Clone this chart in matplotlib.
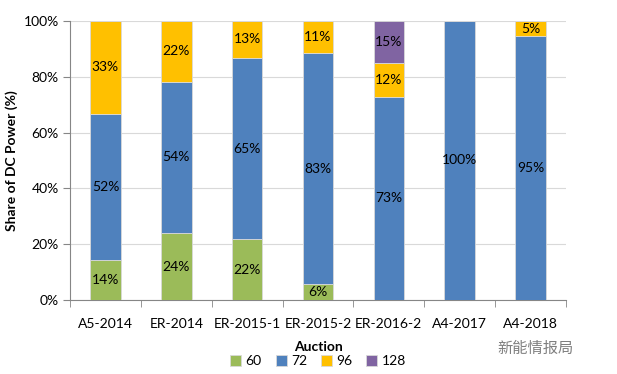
import matplotlib
matplotlib.use("Agg")
import matplotlib.pyplot as plt
import numpy as np

categories = ["A5-2014", "ER-2014", "ER-2015-1", "ER-2015-2", "ER-2016-2", "A4-2017", "A4-2018"]
series_names = ["60", "72", "96", "128"]
s60 = [14.3, 24.0, 21.7, 5.6, 0.0, 0.0, 0.0]
s72 = [52.4, 54.2, 65.2, 83.0, 72.8, 100.0, 94.6]
s96 = [33.3, 21.8, 13.1, 11.4, 12.2, 0.0, 5.4]
s128 = [0.0, 0.0, 0.0, 0.0, 15.0, 0.0, 0.0]
colors = ["#9BBB59", "#4F81BD", "#FFC000", "#8064A2"]

plt.rcParams['font.family'] = ['Lato', 'DejaVu Sans']

fig = plt.figure(figsize=(6.17, 3.74), dpi=100)
ax = fig.add_axes([70/617, 1-300/374, (566-70)/617, (300-21)/374])

x = np.arange(len(categories))
bottom = np.zeros(len(categories))
handles = []
for name, vals, c in zip(series_names, [s60, s72, s96, s128], colors):
    vals = np.array(vals)
    b = ax.bar(x, vals, 0.43, bottom=bottom, color=c, edgecolor="#d9d9d9", linewidth=0.6, label=name, zorder=3)
    handles.append(b)
    for xi, v, bt in zip(x, vals, bottom):
        if v > 0:
            ax.text(xi, bt + v/2, f"{round(v):d}%", ha="center", va="center", fontsize=10, color="black", zorder=4)
    bottom += vals

ax.set_xlim(-0.5, len(categories)-0.5)
ax.set_ylim(0, 100)
ax.set_yticks(np.arange(0, 101, 20))
ax.set_yticklabels([f"{v}%" for v in range(0, 101, 20)], fontsize=10)
ax.set_xticks(x)
ax.set_xticklabels(categories, fontsize=10)
ax.set_xticks(np.arange(-0.5, len(categories), 1), minor=True)
ax.tick_params(axis="x", which="major", length=0, pad=13)
ax.tick_params(axis="x", which="minor", length=5, color="#868686", direction="out")
ax.tick_params(axis="y", length=5, color="#868686", direction="out", pad=3)
ax.grid(axis="y", color="#d9d9d9", linewidth=0.8, zorder=0)
for s in ["top", "right"]:
    ax.spines[s].set_visible(False)
for s in ["left", "bottom"]:
    ax.spines[s].set_color("#868686")
ax.set_ylabel("Share of DC Power (%)", fontsize=10, fontweight="bold", labelpad=4)
ax.set_xlabel("Auction", fontsize=10, fontweight="bold", labelpad=8)

fig.legend(handles=handles, labels=series_names, loc="center", bbox_to_anchor=(318/617, 1-361/374),
           ncol=4, frameon=False, fontsize=10, handlelength=0.8, handleheight=0.8, handletextpad=0.3,
           columnspacing=1.0)

fig.text(497/617, 1-348/374, "新能情报局", fontsize=11, color="#7f7f7f",
         family=["Noto Sans CJK SC", "DejaVu Sans"], ha="left", va="center")

fig.savefig("out.png", dpi=100)
